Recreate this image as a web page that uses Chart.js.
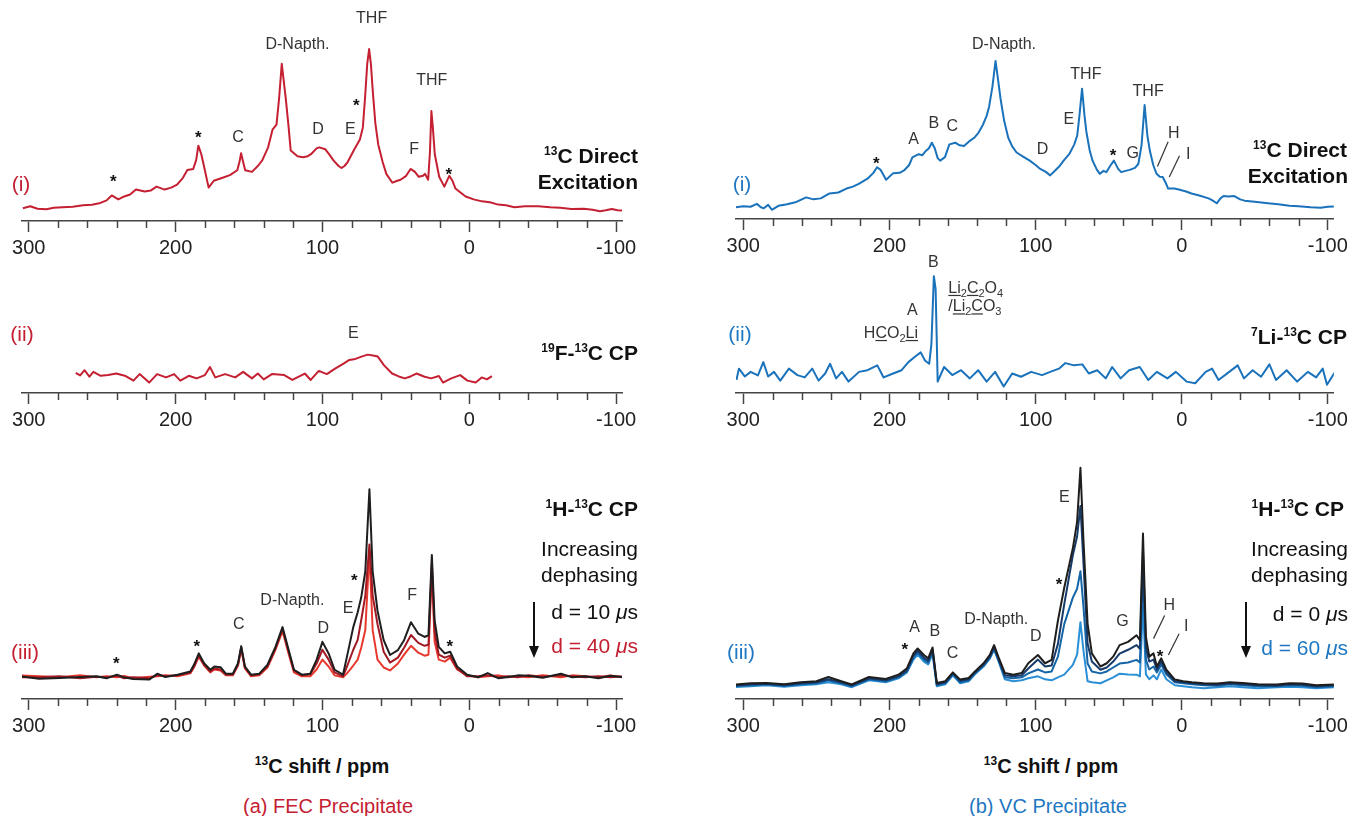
<!DOCTYPE html>
<html>
<head>
<meta charset="utf-8">
<script src="https://cdn.jsdelivr.net/npm/chart.js@4.4.1/dist/chart.umd.min.js"></script>
<style>
body { margin: 0; background: #fff; }
#fig { position: relative; width: 1352px; height: 816px; overflow: hidden;
       font-family: 'Liberation Sans', Arial, sans-serif; color: #111; }
#fig canvas { position: absolute; }
.t { position: absolute; white-space: nowrap; line-height: 1; font-size: 21px; transform: translateY(-50%); }
.c { transform: translate(-50%, -50%); }
.b { font-weight: bold; }
.s { font-size: 12px; position: relative; top: -8px; }
.red { color: #c42032; }
.blue { color: #1f78c1; }
svg { position: absolute; }
</style>
</head>
<body>
<div id="fig">
  <canvas id="fecDirect" width="660" height="264" style="left:0px;top:0px"></canvas>
  <canvas id="fecFCP" width="660" height="191" style="left:0px;top:245px"></canvas>
  <canvas id="fecHCP" width="660" height="302" style="left:0px;top:440px"></canvas>
  <canvas id="vcDirect" width="652" height="262" style="left:700px;top:0px"></canvas>
  <canvas id="vcLiCP" width="652" height="191" style="left:700px;top:245px"></canvas>
  <canvas id="vcHCP" width="652" height="302" style="left:700px;top:440px"></canvas>

  <!-- panel tags and experiment names, left column -->
  <div class="t c red" style="left:21px;top:183px">(i)</div>
  <div class="t b" style="right:714px;top:155px"><span class="s">13</span>C Direct</div>
  <div class="t b" style="right:714px;top:181px">Excitation</div>
  <div class="t c red" style="left:22px;top:333px">(ii)</div>
  <div class="t b" style="right:714px;top:352px"><span class="s">19</span>F-<span class="s">13</span>C CP</div>
  <div class="t c red" style="left:25px;top:651px">(iii)</div>
  <div class="t b" style="right:714px;top:508px"><span class="s">1</span>H-<span class="s">13</span>C CP</div>
  <div class="t" style="right:714px;top:548px">Increasing</div>
  <div class="t" style="right:714px;top:574px">dephasing</div>
  <div class="t" style="right:714px;top:611px">d = 10 <i>μ</i>s</div>
  <div class="t red" style="right:714px;top:645px">d = 40 <i>μ</i>s</div>
  <svg style="left:526px;top:600px" width="16" height="62"><line x1="8" y1="2" x2="8" y2="48" stroke="#111" stroke-width="2"/><polygon points="3,46 13,46 8,58" fill="#111"/></svg>

  <!-- right column -->
  <div class="t c blue" style="left:742px;top:183px">(i)</div>
  <div class="t b" style="right:5px;top:149px"><span class="s">13</span>C Direct</div>
  <div class="t b" style="right:4px;top:175px">Excitation</div>
  <div class="t c blue" style="left:740px;top:333px">(ii)</div>
  <div class="t b" style="right:5px;top:336px"><span class="s">7</span>Li-<span class="s">13</span>C CP</div>
  <div class="t c blue" style="left:741px;top:651px">(iii)</div>
  <div class="t b" style="right:8px;top:508px"><span class="s">1</span>H-<span class="s">13</span>C CP</div>
  <div class="t" style="right:4px;top:548px">Increasing</div>
  <div class="t" style="right:4px;top:574px">dephasing</div>
  <div class="t" style="right:4px;top:613px">d = 0 <i>μ</i>s</div>
  <div class="t blue" style="right:4px;top:647px">d = 60 <i>μ</i>s</div>
  <svg style="left:1238px;top:600px" width="16" height="62"><line x1="8" y1="2" x2="8" y2="48" stroke="#111" stroke-width="2"/><polygon points="3,46 13,46 8,58" fill="#111"/></svg>

  <!-- axis titles and captions -->
  <div class="t c b" style="left:322px;top:766px;font-size:20px"><span class="s">13</span>C shift / ppm</div>
  <div class="t c b" style="left:1051px;top:766px;font-size:20px"><span class="s">13</span>C shift / ppm</div>
  <div class="t c red" style="left:328px;top:806px;font-size:20px">(a) FEC Precipitate</div>
  <div class="t c blue" style="left:1048px;top:806px;font-size:20px">(b) VC Precipitate</div>
</div>

<script>
// ---- data: chemical shift (ppm) and intensity (arb. units) ----

// (a)(i) FEC, 13C direct excitation
const fecDirectPpm = [
  304, 299, 294, 288, 283, 277, 270, 263, 257, 252,
  247, 243.5, 239, 235, 231, 227, 221, 217, 213, 207.5,
  203, 199, 195, 192, 188, 186, 184.5, 182.5, 181, 177.5,
  174, 168, 163, 158, 156.5, 155.4, 154, 152.6, 148, 144,
  141, 137, 134, 131.3, 129.5, 127.7, 125, 123, 121.6, 117,
  113.3, 110, 107.8, 104, 102.2, 98, 95, 92.5, 89, 87,
  85, 82.8, 78.7, 74.5, 72.5, 71, 69.5, 68.2, 67, 65.7,
  64, 62, 59, 56.5, 52.4, 49, 46.8, 43, 40, 37,
  34.4, 31.5, 30.2, 28, 26.8, 25.8, 24.8, 23.5, 20.5, 17,
  13.6, 11.5, 9.4, 6, 2.5, -3, -8.6, -14, -19.7, -25,
  -30.7, -38, -47, -55, -62, -69.5, -78, -84, -89, -93,
  -97, -101, -104
];
const fecDirectInt = [
  13, 15, 12.5, 12, 13.5, 14, 14.5, 16, 16.5, 18,
  21, 26, 22, 25, 27, 32, 30, 31, 35, 32,
  34, 37, 44, 52, 53, 62, 76.7, 68, 58, 34,
  41, 44, 46.7, 51.7, 60, 69, 60, 51.7, 50, 56,
  61.7, 75, 93, 98, 125, 160, 125, 95, 71.7, 66,
  65, 66, 68, 74, 75, 73, 67, 61.7, 56, 54,
  56, 60, 71.7, 83, 95, 125, 160, 175, 160, 131.7,
  100, 78, 60, 48, 39, 41, 42, 46, 53, 50,
  45, 46, 48, 42, 70, 112, 95, 68, 45, 35,
  46, 41, 33, 29, 25, 22, 20, 19, 16.7, 16,
  14, 15, 15, 14, 13.5, 12.3, 12.5, 11.5, 10, 11,
  12.3, 11, 10.7
];

// (a)(ii) FEC, 19F-13C CP
const fecFCPPpm = [
  268, 265, 262, 258.7, 256, 251, 246, 240.4, 234, 228.7,
  224.5, 218, 212.6, 206.5, 201, 196.8, 191, 185.7, 180, 176.6,
  173, 166.3, 159.4, 154, 148, 144, 140, 134.4, 126, 120.5,
  112, 108, 102.5, 97, 91.4, 85.9, 81.7, 77.5, 73.4, 69.2,
  65.5, 62.3, 58, 52.6, 48, 44, 40, 36, 30.4, 26,
  20.7, 17.9, 12.3, 6.2, 1.3, -4.3, -8.5, -12, -15.4
];
const fecFCPInt = [
  20.7, 18, 23.4, 16.7, 21.7, 17.7, 18.5, 20, 17.4, 12.7,
  19.4, 10.7, 19.4, 16, 19.4, 12.7, 17.7, 15, 18.4, 26.7,
  16, 19.4, 16, 21.7, 15, 20, 14, 19.4, 18.4, 13.4,
  20, 13.4, 22.7, 19.4, 25, 30, 34, 35, 37.4, 39.4,
  38.5, 37.4, 28.4, 20, 17, 15, 17, 20, 16.7, 15,
  17.4, 10.7, 15, 18.4, 12.7, 10.7, 16, 14, 17.4
];

// (a)(iii) FEC, 1H-13C CP with dephasing (shared shift axis)
const fecHCPPpm = [
  305, 293, 279, 265, 254, 247, 240, 235, 229, 218,
  212.5, 207, 198.6, 190, 187.5, 184.2, 180.6, 176.4, 173.6, 169.4,
  165.8, 161, 157.5, 155.3, 152.8, 148.6, 143, 137.5, 132, 127.2,
  123.6, 119.4, 114, 108.3, 104, 100, 95.8, 91.7, 86, 83.3,
  79, 76, 73.6, 70.8, 68, 65.8, 62.5, 58.3, 54, 48.6,
  44.4, 39.7, 34.7, 30.5, 27.8, 25.5, 23.6, 20.8, 16.7, 13,
  8.3, 1.4, -6, -12.5, -20, -26.4, -33, -40, -50, -62.5,
  -70, -79, -88, -96, -105
];
const fecHCP10 = [
  23, 20.5, 21.3, 22.3, 23, 21, 24.7, 22, 20.3, 19.7,
  25.7, 22.3, 24.7, 28, 34.7, 46.3, 36.3, 29.7, 33, 32.3,
  25.7, 25.7, 36.3, 53.7, 33, 24.7, 25.7, 34.7, 53, 73,
  53, 29.7, 24.7, 25.7, 39.7, 58, 46.3, 29.7, 24.7, 43,
  73, 88, 103, 129.7, 213, 129.7, 89.7, 59.7, 44.7, 49.7,
  59.7, 78, 66.3, 63, 64.7, 146.3, 79.7, 53, 46.3, 48,
  33, 24.7, 22, 26.3, 21, 22.3, 24, 23.7, 21.5, 25.7,
  22, 23, 21, 23.7, 22.3
];
const fecHCPMid = [
  22, 22, 23, 21, 22.5, 22, 23.5, 21, 22, 21,
  24, 23, 24, 27, 33, 44, 35, 28, 31, 30,
  25, 25, 35, 52, 32, 24, 25, 33, 51, 71,
  51, 29, 24, 25, 36, 50, 40, 27, 23, 33,
  50, 60, 80, 105, 157, 105, 76, 48, 37, 42,
  52, 65, 57, 54, 55, 138, 68, 45, 42, 44,
  31, 23, 23, 24, 22, 23, 22, 24, 22.5, 24,
  23, 22, 23, 22, 23
];
const fecHCP40 = [
  24, 23, 22, 24, 22, 23, 22, 23.5, 21, 22.5,
  23, 24, 23, 26, 32, 43, 34, 27, 30, 29,
  24, 24, 34, 51, 31, 23, 24, 32, 50, 69,
  49, 27, 23, 23, 30, 40, 33, 24, 22, 26,
  34, 40, 52, 70, 150, 70, 40, 32, 29, 36,
  45, 54, 47, 44, 45, 132, 58, 40, 38, 42,
  30, 24, 22, 23, 24, 22, 23, 22, 24, 22,
  24, 23, 22, 24, 22
];

// (b)(i) VC, 13C direct excitation
const vcDirectPpm = [
  305, 300, 295, 290.7, 288, 286, 283, 280.5, 276, 270,
  264.4, 257, 252, 247, 241, 235, 229.4, 225, 220.7, 215,
  211, 208.5, 206, 202.3, 197.4, 193, 190, 186.5, 184.3, 180,
  177.5, 175.5, 173, 171, 169, 167, 165.3, 162, 159, 155,
  152, 149, 145.5, 142, 139, 136, 133.5, 131.8, 129.5, 127.4,
  125.5, 124, 121.5, 118.7, 116, 113, 108, 104, 100, 96.8,
  93, 90, 86.6, 83.5, 80.8, 77, 73.5, 71.5, 70, 68.2,
  66.5, 65.3, 63, 61, 58, 56, 53.5, 51.6, 49, 46.4,
  43.5, 41.4, 38.5, 35.6, 32, 29.7, 27.5, 25.4, 23.5, 21.8,
  19.5, 17.2, 15, 13, 11, 9.3, 5, 2, -3, -6.7,
  -12, -18.4, -21, -24, -26.5, -28.6, -32, -36, -40, -43,
  -50, -59, -66, -73.8, -80, -88.3, -95, -100, -105.8
];
const vcDirectInt = [
  12, 13, 12.5, 15.4, 12, 11, 14.4, 9.4, 13.4, 15,
  17, 22, 20, 21, 26, 27, 31, 33, 36, 41,
  47, 52.7, 50, 40, 46.7, 47, 49.4, 55, 62.7, 66,
  65, 68.7, 72, 77.7, 72, 62, 59.4, 63, 76, 77.7,
  75, 74.4, 79, 82.7, 88, 96, 105, 114.4, 135, 161,
  140, 122.7, 100, 82.7, 74, 67.7, 63, 59.4, 55, 51,
  48, 44.4, 49.4, 54, 59.4, 66, 76, 85, 105, 132.7,
  105, 89.4, 70, 59.4, 50, 46, 49, 47.7, 54, 59.4,
  51, 47.7, 49, 50, 52, 56, 75, 116, 85, 69.4,
  55, 46, 43, 42.7, 37, 31, 31, 30, 28, 26,
  24, 21, 19, 16, 21, 23.4, 23, 23.4, 20, 18.7,
  17.5, 16, 15, 13.4, 13, 12, 11.5, 12.5, 12.7
];

// (b)(ii) VC, 7Li-13C CP
const vcLiCPPpm = [
  304.7, 303, 299, 295, 290, 286.3, 283, 279, 274.7, 268.8,
  263, 258, 252.8, 248.5, 244, 240.6, 236.5, 232.5, 228, 220.8,
  215, 208.3, 204, 197.5, 191.7, 187, 183, 178.6, 175.7, 172.8,
  171.3, 169.6, 168.4, 167, 162.6, 157, 151, 145, 139.3, 133.5,
  127.7, 121.8, 116, 110, 103, 95.6, 90, 84, 79.6, 73.8,
  68, 63.6, 57.8, 52, 47.6, 41.8, 36, 28.7, 22.9, 17,
  9.8, 4, -3.3, -9.2, -16.4, -20.8, -25.2, -32.5, -38.3, -42.6,
  -48.5, -54.3, -60, -64.5, -71.8, -79, -86.3, -92, -96.5, -99.4, -105
];
const vcLiCPInt = [
  13.4, 25, 17, 21.7, 18, 31.7, 17, 21.7, 12.7, 25,
  18.4, 16, 25, 12.7, 20, 30, 15, 21.7, 11.7, 21.7,
  23.4, 28.4, 16, 20, 23.4, 31.7, 36.7, 41.7, 33.4, 30,
  50, 120, 106.7, 11.7, 26.7, 18.4, 23.4, 15, 23.4, 11.7,
  21.7, 6.7, 20, 16.7, 21.7, 18.4, 21.7, 25, 30.7, 28.4,
  29.4, 20, 23.4, 15, 26.7, 15, 23.4, 26.7, 13.4, 21.7,
  15, 21.7, 11.7, 10, 21.7, 25, 13.4, 21.7, 28.4, 15,
  23.4, 16.7, 29.4, 13.4, 23.4, 11.7, 21.7, 16, 25, 8.4, 21.7
];

// (b)(iii) VC, 1H-13C CP with dephasing (shared shift axis)
const vcHCPPpm = [
  306, 295, 284, 272, 260.7, 250, 241.8, 233, 225.8, 214,
  202.5, 193.8, 188, 183.6, 180.7, 176.4, 173.5, 170.5, 167.6, 161.8,
  156.6, 151.6, 145.8, 141.5, 135.6, 131.3, 128.4, 125.5, 121, 115.3,
  109.5, 105, 98.4, 93.5, 89, 84.7, 80.4, 74.5, 71.6, 69.3,
  67.3, 64.4, 61.5, 55.6, 51.3, 46.9, 42.5, 36.7, 30.9, 28.6,
  26.5, 24.5, 22.2, 19.3, 17, 14, 10.5, 4.7, -1, -7,
  -15, -24.4, -33, -41.8, -52, -65, -74, -82.5, -92, -104.4
];
const vcHCP0 = [
  14.7, 16, 16.3, 15, 17, 18, 22.3, 18, 14.7, 22.3,
  20.3, 24.7, 31.3, 46.3, 51.3, 44.7, 41.3, 52.3, 16.3, 18,
  27, 19.7, 21.3, 28, 36.3, 44.7, 54.7, 43, 26.3, 24.7,
  26.3, 36.3, 44.7, 36.3, 39.7, 79.7, 113, 153, 179.7, 234.7,
  163, 76.3, 46.3, 33, 36.3, 43, 54.7, 58, 64.7, 59.7,
  168, 63, 43, 46.3, 33, 41.3, 29.7, 19.7, 18, 17,
  16, 15.7, 17, 16.3, 15, 14.7, 16, 15.7, 14, 14.7
];
const vcHCP20 = [
  13.5, 15, 15.5, 14, 16, 17, 20, 17, 14, 21,
  19, 23, 29, 44, 49, 42, 39, 50, 15, 17,
  26, 18.5, 20, 27, 35, 43, 53, 41, 24, 23,
  24, 31, 40, 33, 34, 56, 96, 146, 165, 196,
  140, 56, 38, 29.7, 32, 38, 46, 50, 54.7, 51,
  150, 52, 38, 40, 30, 38, 27, 18, 17, 16,
  15, 14.5, 16, 15, 14, 13.5, 15, 14.5, 13, 14
];
const vcHCP40 = [
  13, 14, 15, 13.5, 15, 16, 19, 16, 13, 20,
  18, 22, 28, 42, 47, 40, 37, 48, 14, 16,
  25, 17, 19, 26, 34, 42, 51, 40, 22, 21,
  22, 26, 30, 27, 28, 43, 76, 103, 112, 129.7,
  95, 36, 28, 26, 28, 32, 36, 37, 39.7, 37,
  130, 40, 30, 33, 27, 35, 25, 17, 16, 15,
  14, 13.5, 15, 14, 13, 13, 14, 13.5, 12, 13
];
const vcHCP60 = [
  12, 13, 14, 12.5, 14, 15, 17, 15, 12, 19,
  17, 21, 27, 40, 45, 38, 35, 46, 13, 15,
  24, 16, 18, 25, 33, 41, 50, 39, 20, 18,
  19, 21, 23, 20, 19, 22, 24.7, 34.7, 45, 78,
  50, 18, 17, 16, 19, 22, 25.7, 25, 24.7, 23,
  95, 25, 20, 24, 20, 30, 20, 14, 13, 12,
  11, 12, 13, 12, 11, 12, 12.5, 12, 11, 12
];

// peak assignments: [text, ppm, intensity]
const fecDirectLabels = [['D-Napth.', 117, 180], ['THF', 66.5, 206], ['THF', 25.5, 143], ['*', 77, 121],
  ['E', 81, 93], ['D', 103, 93], ['C', 157.5, 85], ['*', 184.5, 88], ['*', 242.5, 43], ['F', 37.5, 73], ['*', 14, 51]];
const fecFCPLabels = [['E', 79, 61]];
const fecHCPLabels = [['*', 240.3, 39], ['*', 185.6, 57], ['C', 157, 76], ['D-Napth.', 120.5, 100], ['D', 99.4, 71],
  ['*', 78.3, 124], ['E', 82.5, 92], ['F', 38.9, 105], ['*', 13.3, 57]];
const vcDirectLabels = [['*', 209, 59.4], ['A', 183.4, 81], ['B', 169.7, 96.7], ['C', 157, 94.4], ['D-Napth.', 121.6, 177.7],
  ['D', 95.3, 71], ['E', 77.3, 101], ['THF', 65.6, 146.7], ['*', 47, 67.7], ['G', 33.5, 66.7], ['THF', 23, 130],
  ['H', 5.5, 86.7], ['I', -4.4, 66]];
const vcDirectLeaders = [[9.3, 78.7, 16.6, 53.4], [1.5, 64.4, 8.5, 42.7]];
const vcLiCPLabels = [['B', 170, 134], ['A', 184.4, 85]];
const vcHCPLabels = [['*', 189.5, 53.7], ['A', 182.8, 72.3], ['B', 169, 68], ['C', 156.9, 45.7], ['D-Napth.', 126.9, 80.3],
  ['D', 99.8, 63.7], ['*', 84, 119], ['E', 80.4, 204.7], ['G', 40.5, 79], ['H', 8.5, 94.7], ['I', -3, 73.7], ['*', 14.9, 46.3]];
const vcHCPLeaders = [[11.7, 84.7, 19.3, 61.3], [1.8, 66.3, 9.1, 44.7]];

const FONT = "'Liberation Sans', Arial, sans-serif";

// rich labels (subscripts + underlines) for the Li CP panel
const vcLiCPRich = [
  { ppm: 199, h: 62.7, align: 'center', segs: [['H'], ['C', 'u'], ['O'], ['2', 's'], ['Li', 'u']] },
  { ppm: 159.7, h: 109, align: 'left', segs: [['Li', 'u'], ['2', 's'], ['C', 'u'], ['2', 's'], ['O'], ['4', 's']] },
  { ppm: 159.7, h: 90, align: 'left', segs: [['/'], ['Li', 'u'], ['2', 's'], ['C', 'u'], ['O'], ['3', 's']] }
];

const annotations = {
  fecDirect: { items: fecDirectLabels },
  fecFCP: { items: fecFCPLabels },
  fecHCP: { items: fecHCPLabels },
  vcDirect: { items: vcDirectLabels, leaders: vcDirectLeaders },
  vcLiCP: { items: vcLiCPLabels, rich: vcLiCPRich },
  vcHCP: { items: vcHCPLabels, leaders: vcHCPLeaders }
};

function drawRich(ctx, segs, x, y, align) {
  const big = '16px ' + FONT, small = '11px ' + FONT;
  let w = 0;
  segs.forEach(s => { ctx.font = s[1] === 's' ? small : big; w += ctx.measureText(s[0]).width; });
  let cx = align === 'center' ? x - w / 2 : x;
  ctx.textAlign = 'left';
  ctx.textBaseline = 'alphabetic';
  const base = y + 6;
  segs.forEach(s => {
    ctx.font = s[1] === 's' ? small : big;
    const sw = ctx.measureText(s[0]).width;
    ctx.fillText(s[0], cx, s[1] === 's' ? base + 4 : base);
    if (s[1] === 'u') ctx.fillRect(cx, base + 2, sw, 1.2);
    cx += sw;
  });
}

// text labels over peaks, plus minor axis ticks
const peakLabelPlugin = {
  id: 'peakLabels',
  afterDraw(chart) {
    const ann = annotations[chart.canvas.id];
    const ctx = chart.ctx, xs = chart.scales.x, ys = chart.scales.y;
    ctx.save();
    // minor ticks every 20 ppm
    ctx.strokeStyle = '#444';
    ctx.lineWidth = 1.5;
    for (let v = -80; v <= 280; v += 20) {
      if (v % 100 === 0) continue;
      const px = Math.round(xs.getPixelForValue(v)) + 0.5;
      ctx.beginPath();
      ctx.moveTo(px, xs.top);
      ctx.lineTo(px, xs.top + 7);
      ctx.stroke();
    }
    if (ann) {
      ctx.fillStyle = '#333';
      ctx.textAlign = 'center';
      ctx.textBaseline = 'middle';
      ann.items.forEach(([t, p, h]) => {
        const x = xs.getPixelForValue(p), y = ys.getPixelForValue(h);
        if (t === '*') {
          ctx.fillStyle = '#111';
          ctx.font = 'bold 17px ' + FONT;
          ctx.fillText('*', x, y + 4);
          ctx.fillStyle = '#333';
        } else {
          ctx.font = '16px ' + FONT;
          ctx.fillText(t, x, y);
        }
      });
      (ann.leaders || []).forEach(([p1, h1, p2, h2]) => {
        ctx.strokeStyle = '#333';
        ctx.lineWidth = 1.2;
        ctx.beginPath();
        ctx.moveTo(xs.getPixelForValue(p1), ys.getPixelForValue(h1));
        ctx.lineTo(xs.getPixelForValue(p2), ys.getPixelForValue(h2));
        ctx.stroke();
      });
      (ann.rich || []).forEach(r => {
        ctx.fillStyle = '#333';
        drawRich(ctx, r.segs, xs.getPixelForValue(r.ppm), ys.getPixelForValue(r.h), r.align);
      });
    }
    ctx.restore();
  }
};

function toPoints(ppm, vals) {
  return ppm.map((p, i) => ({ x: p, y: vals[i] }));
}

function makeSpectrum(id, series, opts) {
  const ctx = document.getElementById(id);
  return new Chart(ctx, {
    type: 'line',
    data: {
      datasets: series.map(s => ({
        data: toPoints(s.ppm, s.vals),
        borderColor: s.color,
        borderWidth: 2,
        pointRadius: 0,
        tension: 0,
        borderJoinStyle: 'round',
        fill: false
      }))
    },
    options: {
      responsive: false,
      animation: false,
      events: [],
      layout: { padding: { left: opts.left, right: opts.right, top: 0, bottom: 0 } },
      plugins: { legend: { display: false }, tooltip: { enabled: false } },
      scales: {
        x: {
          type: 'linear',
          reverse: true,
          min: opts.xmin,
          max: opts.xmax,
          border: { display: true, color: '#444', width: 1.6 },
          grid: {
            drawOnChartArea: false,
            tickLength: 11,
            tickWidth: 1.5,
            tickColor: c => (c.tick && c.tick.value % 100 === 0) ? '#444' : 'rgba(0,0,0,0)'
          },
          ticks: {
            stepSize: 20,
            includeBounds: false,
            autoSkip: false,
            maxRotation: 0,
            padding: 4,
            color: '#222',
            font: { family: FONT, size: 20 },
            callback: v => (v % 100 === 0 ? String(v) : '')
          }
        },
        y: { display: false, min: 0, max: opts.ymax }
      }
    },
    plugins: [peakLabelPlugin]
  });
}

const RED = '#c42032', RED_DARK = '#a11a23', RED_LIGHT = '#e8392f', BLACK = '#1e1e1e';
const BLUE = '#1a72bb', NAVY = '#163a6a', BLUE_MID = '#1565a6', BLUE_LIGHT = '#2b8fd6';
const leftAxis = { left: 22, right: 38, xmin: -104, xmax: 304.6 };
const rightAxis = { left: 36, right: 13, xmin: -104.1, xmax: 305 };

makeSpectrum('fecDirect', [{ ppm: fecDirectPpm, vals: fecDirectInt, color: RED }], { ...leftAxis, ymax: 225 });
makeSpectrum('fecFCP', [{ ppm: fecFCPPpm, vals: fecFCPInt, color: RED }], { ...leftAxis, ymax: 152 });
makeSpectrum('fecHCP', [
  { ppm: fecHCPPpm, vals: fecHCP10, color: BLACK },
  { ppm: fecHCPPpm, vals: fecHCPMid, color: RED_DARK },
  { ppm: fecHCPPpm, vals: fecHCP40, color: RED_LIGHT }
], { ...leftAxis, ymax: 263 });

makeSpectrum('vcDirect', [{ ppm: vcDirectPpm, vals: vcDirectInt, color: BLUE }], { ...rightAxis, ymax: 223 });
makeSpectrum('vcLiCP', [{ ppm: vcLiCPPpm, vals: vcLiCPInt, color: BLUE }], { ...rightAxis, ymax: 152 });
makeSpectrum('vcHCP', [
  { ppm: vcHCPPpm, vals: vcHCP0, color: BLACK },
  { ppm: vcHCPPpm, vals: vcHCP20, color: NAVY },
  { ppm: vcHCPPpm, vals: vcHCP40, color: BLUE_MID },
  { ppm: vcHCPPpm, vals: vcHCP60, color: BLUE_LIGHT }
], { ...rightAxis, ymax: 263 });
</script>
</body>
</html>
